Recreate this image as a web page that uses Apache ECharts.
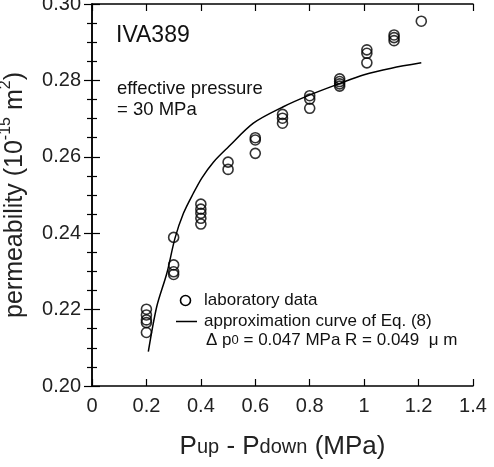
<!DOCTYPE html>
<html><head><meta charset="utf-8">
<script src="https://cdn.jsdelivr.net/npm/echarts@6/dist/echarts.min.js"></script>
<style>html,body{margin:0;padding:0;background:#fff}#c{width:494px;height:467px}</style>
</head><body><div id="c"></div>
<script>
// Laboratory data: x = Pup - Pdown (MPa), y = permeability (1e-15 m2)
const labX = [0.20,0.20,0.20,0.20,0.20, 0.30,0.30,0.30,0.30, 0.40,0.40,0.40,0.40,0.40, 0.50,0.50, 0.60,0.60,0.60, 0.70,0.70,0.70, 0.80,0.80,0.80, 0.91,0.91,0.91,0.91, 1.01,1.01,1.01, 1.11,1.11,1.11, 1.21];
const labY = [0.2201,0.2186,0.2173,0.2166,0.2140, 0.2389,0.2317,0.2299,0.2292, 0.2476,0.2463,0.2452,0.2439,0.2424, 0.2586,0.2567, 0.2650,0.2644,0.2609, 0.2711,0.2701,0.2688, 0.2760,0.2751,0.2727, 0.2804,0.2797,0.2791,0.2785, 0.2880,0.2871,0.2846, 0.2919,0.2912,0.2904, 0.2955];
// Approximation curve of Eq. (8)
const curveX = [0.207,0.238,0.275,0.305,0.336,0.372,0.404,0.446,0.50,0.593,0.703,0.801,0.911,1.00,1.10,1.21];
const curveY = [0.2090,0.2208,0.2295,0.2387,0.2452,0.2504,0.2545,0.2586,0.2625,0.2688,0.2731,0.2762,0.2792,0.2815,0.2832,0.2846];
const xTicks = {min:0, max:1.4, interval:0.2};
const yTicks = {min:0.20, max:0.30, interval:0.02};

const font = '"Liberation Sans", Arial, sans-serif';
const chart = echarts.init(document.getElementById('c'), null, {renderer:'canvas'});
const axisLine = {show:true, lineStyle:{color:'#000', width:1.5}};
const baseX = {type:'value', min:xTicks.min, max:xTicks.max, interval:xTicks.interval,
  axisLine, splitLine:{show:false}, axisTick:{inside:true, length:7, lineStyle:{color:'#000',width:1.2}}};
const baseY = {type:'value', min:yTicks.min, max:yTicks.max, interval:yTicks.interval,
  axisLine, splitLine:{show:false}, axisTick:{inside:true, length:8, lineStyle:{color:'#000',width:1.2}},
  minorTick:{show:true, splitNumber:4, length:5, lineStyle:{color:'#000',width:1.2}}, minorSplitLine:{show:false}};
chart.setOption({
  animation:false,
  grid:{left:92, right:21, top:4, bottom:81, containLabel:false, outerBoundsMode:'none'},
  xAxis:[
    Object.assign({}, baseX, {position:'bottom',
      axisLabel:{color:'#222', fontSize:20, fontFamily:font, margin:10},
      name:'{p|P}{s|up}{p| - P}{s|down}{p| (MPa)}', nameLocation:'middle', nameGap:48,
      nameTextStyle:{rich:{p:{fontSize:26,fontFamily:font,color:'#222'}, s:{fontSize:20,fontFamily:font,color:'#222'}}}}),
    Object.assign({}, baseX, {position:'top', axisLabel:{show:false}})
  ],
  yAxis:[
    Object.assign({}, baseY, {position:'left',
      axisLabel:{color:'#222', fontSize:20, fontFamily:font, margin:11, formatter:v=>v.toFixed(2)},
      name:'{p|permeability (10}{sup|-15}{p| m}{sup|2}{p|)}', nameLocation:'middle', nameGap:64, nameRotate:90,
      nameTextStyle:{rich:{p:{fontSize:25,fontFamily:font,color:'#222',lineHeight:30,verticalAlign:'bottom'},
        sup:{fontSize:16,fontFamily:font,color:'#222',lineHeight:30,verticalAlign:'top'}}}}),
    Object.assign({}, baseY, {position:'right', axisLabel:{show:false}})
  ],
  series:[
    {type:'line', data:curveX.map((x,i)=>[x,curveY[i]]), smooth:0.3, showSymbol:false,
      lineStyle:{color:'#000', width:1.5}, z:2},
    {type:'scatter', data:labX.map((x,i)=>[x,labY[i]]), symbol:'circle', symbolSize:10,
      itemStyle:{color:'rgba(0,0,0,0)', borderColor:'#000', borderWidth:1.6}, z:3}
  ],
  graphic:[
    {type:'text', left:116, top:24, style:{text:'IVA389', font:'23px '+font, fill:'#111'}},
    {type:'text', left:117, top:78, style:{text:'effective pressure\n= 30 MPa', font:'18.5px '+font, fill:'#111', lineHeight:21}},
    {type:'circle', shape:{cx:185.5, cy:300.5, r:5}, style:{fill:'none', stroke:'#000', lineWidth:1.6}},
    {type:'line', shape:{x1:176, y1:321.5, x2:197, y2:321.5}, style:{stroke:'#000', lineWidth:1.5}},
    {type:'text', left:204, top:292, style:{text:'laboratory data', font:'17px '+font, fill:'#111'}},
    {type:'text', left:204, top:313, style:{text:'approximation curve of Eq. (8)', font:'17px '+font, fill:'#111'}},
    {type:'text', left:206, top:332, style:{rich:{a:{font:'17px '+font, fill:'#111'}, s:{font:'13px '+font, fill:'#111'}},
      text:'{a|Δ p}{s|0}{a| = 0.047 MPa R = 0.049  μ m}'}}
  ]
});
</script></body></html>
